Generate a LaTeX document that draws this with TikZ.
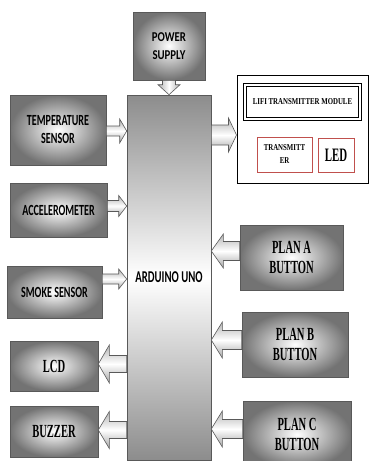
\documentclass[tikz,border=0pt]{standalone}
\usepackage{fontspec}
\usetikzlibrary{calc,shadows}
\newfontfamily\condsans[FakeStretch=0.65]{Carlito}
\newfontfamily\widesans[FakeStretch=0.8]{Carlito}
\newfontfamily\condserif[FakeStretch=0.57]{Liberation Serif}
\newfontfamily\narrowserif[FakeStretch=0.76]{Liberation Serif}
\definecolor{boxedge}{HTML}{595959}
\definecolor{txred}{HTML}{C0504D}
% block arrow: [shading] {from} {to} {shaft half} {head half} {head length}
\newcommand{\blkarrow}[6][]{%
  \coordinate (ba-s) at #2;
  \coordinate (ba-e) at #3;
  \coordinate (ba-h) at ($(ba-e)!#6!(ba-s)$);
  \draw[blkarr,#1] ($(ba-s)!#4!90:(ba-e)$) -- ($(ba-h)!#4!90:(ba-e)$)
    -- ($(ba-h)!#5!90:(ba-e)$) -- (ba-e) -- ($(ba-h)!#5!-90:(ba-e)$)
    -- ($(ba-h)!#4!-90:(ba-e)$) -- ($(ba-s)!#4!-90:(ba-e)$) -- cycle;}
\tikzset{
  graybox/.style={draw=boxedge, line width=0.6pt, inner color=white, outer color=black!55,
                  drop shadow={opacity=0.3, shadow xshift=1pt, shadow yshift=-1pt},
                  align=center, inner sep=2pt},
  sanslbl/.style={font=\fontsize{15.5}{18}\condsans\bfseries},
  seriflbl/.style={font=\fontsize{18.5}{20}\condserif\bfseries},
  redbox/.style={draw=txred, line width=0.9pt, align=center, inner sep=1pt},
  blkarr/.style={draw=black!65, line width=0.6pt, top color=black!30,
                 bottom color=black!35, middle color=white}}
\begin{document}
\begin{tikzpicture}[x=1pt, y=-1pt]
  \useasboundingbox (0,0) rectangle (369,461);
  \clip (0,0) rectangle (369,461);
  % controller and supply
  \node[graybox, minimum width=72pt, minimum height=68pt,
        font=\fontsize{13.5}{18}\widesans\bfseries] (power) at (169,46) {POWER\\SUPPLY};
  \node[graybox, top color=black!45, bottom color=black!45, middle color=white,
        minimum width=84pt, minimum height=365pt,
        font=\fontsize{16.5}{18}\condsans\bfseries] (uno) at (169,277.5) {ARDUINO UNO};
  % sensors and outputs on the left
  \node[graybox, sanslbl, minimum width=96pt, minimum height=70pt] (temp) at (58,130) {TEMPERATURE\\SENSOR};
  \node[graybox, sanslbl, minimum width=97pt, minimum height=54pt] (accel) at (58.5,210) {ACCELEROMETER};
  \node[graybox, sanslbl, minimum width=95pt, minimum height=52pt] (smoke) at (54.5,292) {SMOKE SENSOR};
  \node[graybox, seriflbl, minimum width=88pt, minimum height=50pt] (lcd) at (54,366) {LCD};
  \node[graybox, seriflbl, minimum width=88pt, minimum height=51pt] (buzzer) at (54,431.5) {BUZZER};
  % buttons on the right
  \node[graybox, seriflbl, minimum width=103pt, minimum height=65pt] (plana) at (291.5,257.5) {PLAN A\\BUTTON};
  \node[graybox, seriflbl, minimum width=106pt, minimum height=65pt] (planb) at (295,344.5) {PLAN B\\BUTTON};
  \node[graybox, seriflbl, minimum width=108pt, minimum height=67pt] (planc) at (297,434.5) {PLAN C\\BUTTON};
  % lifi transmitter
  \node[draw, line width=1pt, minimum width=131pt, minimum height=108pt] (lifi) at (302.5,129) {};
  \node[draw, double, double distance=2.2pt, line width=0.9pt, minimum width=115pt,
        minimum height=34pt, font=\fontsize{9}{11}\narrowserif\bfseries] (module) at (302.5,102)
        {LIFI TRANSMITTER MODULE};
  \node[redbox, minimum width=55pt, minimum height=35pt,
        font=\fontsize{9}{13}\narrowserif\bfseries] (trans) at (284.5,154.5) {TRANSMITT\\ER};
  \node[redbox, minimum width=36pt, minimum height=34pt,
        font=\fontsize{19}{20}\condserif\bfseries] (led) at (336,155) {LED};
  % block arrows
  \blkarrow[left color=black!30, right color=black!30, middle color=white]{(power.south)}{(uno.north)}{6.5pt}{11pt}{10pt}
  \coordinate (tmp-a) at ($(temp.east)+(0,1)$);
  \blkarrow{(tmp-a)}{(uno.west |- tmp-a)}{5pt}{12pt}{7pt}
  \coordinate (acc-a) at ($(accel.east)+(0,-4)$);
  \blkarrow{(acc-a)}{(uno.west |- acc-a)}{5.5pt}{10.5pt}{8pt}
  \coordinate (smk-a) at ($(smoke.east)+(0,-13)$);
  \blkarrow{(smk-a)}{(uno.west |- smk-a)}{5pt}{10pt}{8pt}
  \coordinate (out-a) at ($(lifi.west)+(0,6)$);
  \blkarrow{(uno.east |- out-a)}{(out-a)}{10pt}{17pt}{8pt}
  \coordinate (pla-a) at ($(plana.west)+(0,-6.5)$);
  \blkarrow{(pla-a)}{(uno.east |- pla-a)}{9.5pt}{17pt}{12pt}
  \coordinate (plb-a) at ($(planb.west)+(0,-4.5)$);
  \blkarrow{(plb-a)}{(uno.east |- plb-a)}{9.5pt}{18pt}{11pt}
  \coordinate (plc-a) at ($(planc.west)+(0,-5.5)$);
  \blkarrow{(plc-a)}{(uno.east |- plc-a)}{9.5pt}{18pt}{11pt}
  \coordinate (lcd-a) at ($(lcd.east)+(0,-2)$);
  \blkarrow{(uno.west |- lcd-a)}{(lcd-a)}{8.5pt}{19pt}{11pt}
  \coordinate (bzr-a) at ($(buzzer.east)+(0,-1.5)$);
  \blkarrow{(uno.west |- bzr-a)}{(bzr-a)}{8.5pt}{18.5pt}{11pt}
\end{tikzpicture}
\end{document}
